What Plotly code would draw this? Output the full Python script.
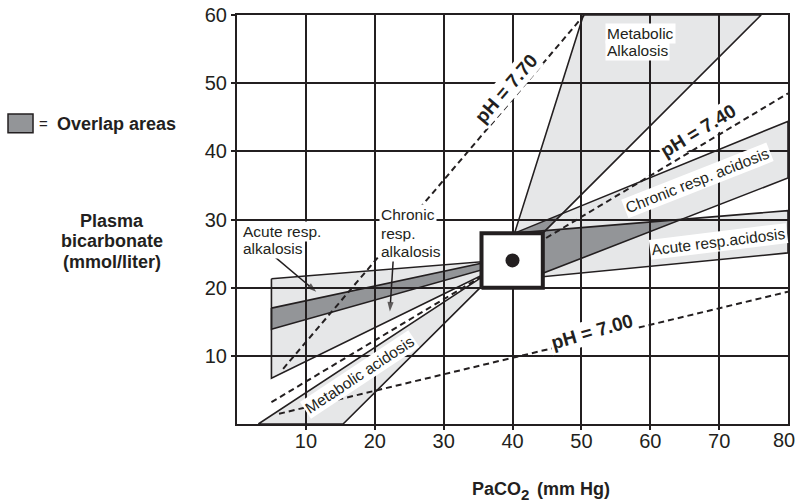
import plotly.graph_objects as go

FONT = "Liberation Sans, Arial, Helvetica, sans-serif"
INK = "#231f20"
LIGHT = "#e6e7e8"
DARK = "#939598"

# ---------------- data ----------------
x_ticks = [10, 20, 30, 40, 50, 60, 70, 80]
y_ticks = [10, 20, 30, 40, 50, 60]

# band polygons: (PaCO2, HCO3) vertices
acute_resp_alkalosis_x = [5.0, 35.5, 35.5, 5.0]
acute_resp_alkalosis_y = [21.3, 23.8, 22.6, 13.9]
chronic_resp_alkalosis_x = [5.0, 35.5, 35.5, 5.0]
chronic_resp_alkalosis_y = [17.0, 23.6, 21.8, 6.7]
metabolic_acidosis_x = [3.1, 35.5, 35.5, 15.4]
metabolic_acidosis_y = [0.0, 21.5, 20.2, 0.0]
metabolic_alkalosis_x = [40.3, 50.3, 76.1, 44.4]
metabolic_alkalosis_y = [28.0, 60.0, 60.0, 28.0]
chronic_resp_acidosis_x = [40.3, 80.0, 80.0, 44.4]
chronic_resp_acidosis_y = [28.0, 44.4, 36.1, 22.1]
acute_resp_acidosis_x = [40.3, 80.0, 80.0, 44.4]
acute_resp_acidosis_y = [28.0, 31.3, 25.1, 21.6]

# normal range box and normal point
normal_box_x = [35.5, 44.4]
normal_box_y = [20.0, 28.0]
normal_point_x = [40.0]
normal_point_y = [24.0]

# pH isopleths (read endpoints)
ph_labels = ["pH = 7.70", "pH = 7.40", "pH = 7.00"]
ph_line_x = [[6.7, 50.4], [5.0, 80.0], [6.1, 80.0]]
ph_line_y = [[8.1, 60.0], [3.2, 48.5], [1.5, 19.4]]

# pointer arrows (tail -> tip)
arrow_x = [[5.4, 11.5], [22.7, 22.2]]
arrow_y = [[24.6, 19.4], [24.4, 16.5]]

bands = [
    (acute_resp_alkalosis_x, acute_resp_alkalosis_y),
    (chronic_resp_alkalosis_x, chronic_resp_alkalosis_y),
    (metabolic_acidosis_x, metabolic_acidosis_y),
    (metabolic_alkalosis_x, metabolic_alkalosis_y),
    (chronic_resp_acidosis_x, chronic_resp_acidosis_y),
    (acute_resp_acidosis_x, acute_resp_acidosis_y),
]


# ---------------- helpers ----------------
def signed_area(p):
    n = len(p)
    return sum(p[i][0] * p[(i + 1) % n][1] - p[(i + 1) % n][0] * p[i][1] for i in range(n)) / 2


def clip(subject, clipper):
    sign = 1 if signed_area(clipper) > 0 else -1
    out = list(subject)
    n = len(clipper)
    for i in range(n):
        a, b = clipper[i], clipper[(i + 1) % n]
        inp, out = out, []
        if not inp:
            break

        def inside(p):
            return sign * ((b[0] - a[0]) * (p[1] - a[1]) - (b[1] - a[1]) * (p[0] - a[0])) >= 0

        def inter(p, q):
            x1, y1 = p
            x2, y2 = q
            x3, y3 = a
            x4, y4 = b
            den = (x1 - x2) * (y3 - y4) - (y1 - y2) * (x3 - x4)
            t = ((x1 - x3) * (y3 - y4) - (y1 - y3) * (x3 - x4)) / den
            return (x1 + t * (x2 - x1), y1 + t * (y2 - y1))

        s = inp[-1]
        for e in inp:
            if inside(e):
                if not inside(s):
                    out.append(inter(s, e))
                out.append(e)
            elif inside(s):
                out.append(inter(s, e))
            s = e
    return out


def path_of(pts):
    return "M " + " L ".join(f"{x},{y}" for x, y in pts) + " Z"


fig = go.Figure()
shapes = []

# light fills
polys = [list(zip(bx, by)) for bx, by in bands]
for p in polys:
    shapes.append(dict(type="path", path=path_of(p), xref="x", yref="y",
                       fillcolor=LIGHT, line=dict(width=0), layer="below"))
# overlap fills
for i in range(len(polys)):
    for j in range(i + 1, len(polys)):
        ov = clip(polys[i], polys[j])
        if len(ov) >= 3 and abs(signed_area(ov)) > 0.05:
            shapes.append(dict(type="path", path=path_of(ov), xref="x", yref="y",
                               fillcolor=DARK, line=dict(width=0), layer="below"))

# legend swatch (paper coords)
shapes.append(dict(type="rect", xref="paper", yref="paper",
                   x0=-0.4156, x1=-0.3702, y0=0.712, y1=0.758,
                   fillcolor=DARK, line=dict(color=INK, width=1.5)))

# band outlines
for bx, by in bands:
    fig.add_trace(go.Scatter(x=bx + [bx[0]], y=by + [by[0]], mode="lines",
                             line=dict(color=INK, width=1.6), hoverinfo="skip",
                             showlegend=False))

# pH dashed lines
for lx, ly in zip(ph_line_x, ph_line_y):
    fig.add_trace(go.Scatter(x=lx, y=ly, mode="lines",
                             line=dict(color=INK, width=2, dash="6px,4px"),
                             hoverinfo="skip", showlegend=False))

# pointer arrows
for axs, ays in zip(arrow_x, arrow_y):
    fig.add_trace(go.Scatter(x=axs, y=ays, mode="lines+markers",
                             line=dict(color=INK, width=1.5),
                             marker=dict(symbol=["circle", "arrow"], size=[0, 10],
                                         angleref="previous", color=INK,
                                         line=dict(width=0)),
                             hoverinfo="skip", showlegend=False))

# normal box
bx0, bx1 = normal_box_x
by0, by1 = normal_box_y
fig.add_trace(go.Scatter(x=[bx0, bx1, bx1, bx0, bx0], y=[by0, by0, by1, by1, by0],
                         mode="lines", fill="toself", fillcolor="white",
                         line=dict(color=INK, width=4), hoverinfo="skip", showlegend=False))
fig.add_trace(go.Scatter(x=normal_point_x, y=normal_point_y, mode="markers",
                         marker=dict(color=INK, size=14), hoverinfo="skip", showlegend=False))

ann = []


def label(text, x, y, size=15.5, angle=0, bold=False, bg="white", xanchor="center",
          xref="x", yref="y", yshift=0, xshift=0):
    t = f"<b>{text}</b>" if bold else text
    d = dict(text=t, x=x, y=y, xref=xref, yref=yref, showarrow=False,
             textangle=angle, font=dict(family=FONT, size=size, color=INK),
             borderpad=1, xanchor=xanchor, yanchor="middle", yshift=yshift,
             xshift=xshift)
    if bg:
        d["bgcolor"] = bg
    ann.append(d)


def block(lines, x, y, spacing, **kw):
    n = len(lines)
    for i, line in enumerate(lines):
        label(line, x, y, yshift=(n - 1) / 2 * spacing - i * spacing, **kw)


# pH labels
label(ph_labels[0], 39.1, 49.25, size=19, angle=-49, bold=True)
label(ph_labels[1], 67.0, 43.1, size=19, angle=-31, bold=True)
label(ph_labels[2], 51.6, 13.6, size=19, angle=-16, bold=True)

# region labels
block(["Metabolic", "Alkalosis"], 53.4, 56.1, 17, xanchor="left")
label("Chronic resp. acidosis", 66.8, 35.7, angle=-21.5)
label("Acute resp.acidosis", 69.9, 26.8, angle=-7)
block(["Acute resp.", "alkalosis"], 0.6, 27.0, 17.5, xanchor="left")
block(["Chronic", "resp.", "alkalosis"], 20.6, 28.0, 18.5, xanchor="left")
label("Metabolic acidosis", 17.8, 7.3, angle=-33.5)

# last x tick label, nudged inside the page
label(str(x_ticks[-1]), x_ticks[-1], -0.039, size=20, bg=None, xref="x", yref="paper",
      xshift=-4)

# legend text
label("=", -0.3503, 0.7346, size=15, bg=None, xref="paper", yref="paper")
label("Overlap areas", -0.3303, 0.7346, size=18, bold=True, bg=None, xanchor="left",
      xref="paper", yref="paper")

# axis titles
block(["Plasma", "bicarbonate", "(mmol/liter)"], -0.2269, 0.447, 20.5, size=18, bold=True,
      bg=None, xref="paper", yref="paper")
label("PaCO", 0.5154, -0.160, size=18, bold=True, bg=None, xanchor="right",
      xref="paper", yref="paper", xshift=2)
label("2", 0.5154, -0.160, size=15, bold=True, bg=None, xanchor="left",
      xref="paper", yref="paper", yshift=-5, xshift=-2)
label("(mm Hg)", 0.5445, -0.160, size=18, bold=True, bg=None, xanchor="left",
      xref="paper", yref="paper", xshift=-2)

axis_common = dict(showgrid=True, gridcolor=INK, gridwidth=2, zeroline=False,
                   showline=True, linecolor=INK, linewidth=2, mirror=True,
                   ticks="outside", ticklen=4, tickcolor=INK, tickwidth=1.5,
                   automargin=False,
                   tickfont=dict(family=FONT, size=20, color=INK))

fig.update_layout(
    width=797, height=502,
    margin=dict(l=237, r=9, t=15, b=78, autoexpand=False),
    paper_bgcolor="white", plot_bgcolor="white",
    showlegend=False,
    shapes=shapes,
    annotations=ann,
    xaxis=dict(range=[0, 80], tickvals=x_ticks[:-1], ticklabelstandoff=-6, **axis_common),
    yaxis=dict(range=[0, 60], tickvals=y_ticks, **axis_common),
)

fig.write_html("out.html")
